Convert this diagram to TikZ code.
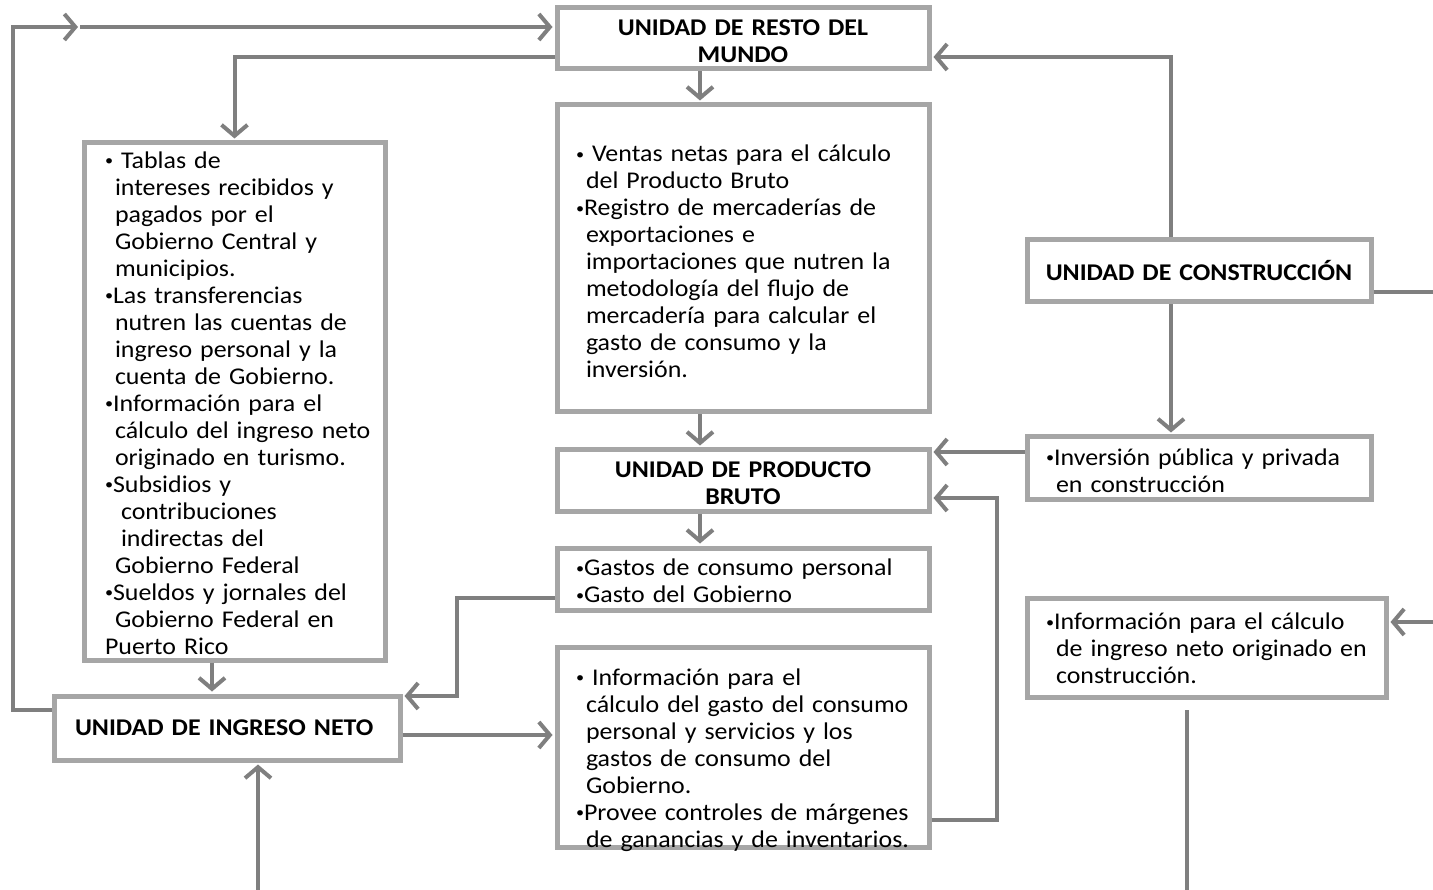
\documentclass[tikz,border=0pt]{standalone}
\usepackage{fontspec}
\setmainfont{Carlito}[FakeStretch=1.08]
\usetikzlibrary{arrows.meta}
\definecolor{boxgray}{HTML}{A6A6A6}
\definecolor{lngray}{HTML}{7F7F7F}
\newcommand{\ind}{\hspace*{10pt}}
\newcommand{\bul}{\raisebox{2.5pt}{\fontsize{15}{15}\selectfont•}}
\tikzset{
  box/.style={draw=boxgray, line width=5pt, fill=white, rectangle, inner sep=0pt,
    font=\fontsize{24}{27}\selectfont},
  tbox/.style={box, align=left},
  head/.style={box, font=\bfseries\fontsize{24}{27}\selectfont, align=center},
  conn/.style={draw=lngray, line width=4pt},
  arr/.style={conn, -{Straight Barb[length=11pt,width=26pt]}, shorten >=2pt},
}
\begin{document}
\begin{tikzpicture}[x=1pt,y=-1pt]
\useasboundingbox (0,0) rectangle (1433,890);

% boxes
\node[head, minimum width=372, minimum height=61, text width=360, text depth=21pt] (resto) at (743,38.5)
  {UNIDAD DE RESTO DEL\\MUNDO};
\node[tbox, minimum width=372, minimum height=307, text width=360, text depth=210pt] (ventas) at (743,258.5)
  {\leftskip=13pt\relax
   \bul{} Ventas netas para el cálculo\\
   \ind del Producto Bruto\\
   \bul Registro de mercaderías de\\
   \ind exportaciones e\\
   \ind importaciones que nutren la\\
   \ind metodología del flujo de\\
   \ind mercadería para calcular el\\
   \ind gasto de consumo y la\\
   \ind inversión.\par};
\node[head, minimum width=372, minimum height=61, text width=360, text depth=22pt] (pb) at (743,480.5)
  {UNIDAD DE PRODUCTO\\BRUTO};
\node[tbox, minimum width=372, minimum height=62, text width=360, text depth=23pt] (gastos) at (743,579)
  {\leftskip=13pt\relax
   \bul Gastos de consumo personal\\
   \bul Gasto del Gobierno\par};
\node[tbox, minimum width=372, minimum height=200, text width=360, text depth=140pt] (infoc) at (743,747)
  {\leftskip=13pt\relax
   \bul{} Información para el\\
   \ind cálculo del gasto del consumo\\
   \ind personal y servicios y los\\
   \ind gastos de consumo del\\
   \ind Gobierno.\\
   \bul Provee controles de márgenes\\
   \ind de ganancias y de inventarios.\par};
\node[tbox, minimum width=301, minimum height=517, text width=289, text depth=483pt] (tablas) at (234.5,401.5)
  {\leftskip=15pt\relax
   \bul{} Tablas de\\
   \ind intereses recibidos y\\
   \ind pagados por el\\
   \ind Gobierno Central y\\
   \ind municipios.\\
   \bul Las transferencias\\
   \ind nutren las cuentas de\\
   \ind ingreso personal y la\\
   \ind cuenta de Gobierno.\\
   \bul Información para el\\
   \ind cálculo del ingreso neto\\
   \ind originado en turismo.\\
   \bul Subsidios y\\
   \hspace*{16pt}contribuciones\\
   \hspace*{16pt}indirectas del\\
   \ind Gobierno Federal\\
   \bul Sueldos y jornales del\\
   \ind Gobierno Federal en\\
   Puerto Rico\par};
\node[head, align=left, minimum width=346, minimum height=64, text width=334, text depth=-2pt] (ingreso) at (227,728)
  {\leftskip=15pt\relax UNIDAD DE INGRESO NETO\par};
\node[head, minimum width=344, minimum height=62, text width=332] (constr) at (1199,271)
  {UNIDAD DE CONSTRUCCIÓN};
\node[tbox, minimum width=344, minimum height=62, text width=332, text depth=22pt] (inv) at (1199,468)
  {\leftskip=13pt\relax
   \bul Inversión pública y privada\\
   \ind en construcción\par};
\node[tbox, minimum width=359, minimum height=99, text width=347, text depth=52pt] (infok) at (1206.5,647.5)
  {\leftskip=13pt\relax
   \bul Información para el cálculo\\
   \ind de ingreso neto originado en\\
   \ind construcción.\par};

% free ends
\coordinate (m1) at (80,27);
\coordinate (cr) at (1433,292);
\coordinate (kr) at (1433,622);
\coordinate (vt) at (1187,710);
\coordinate (vb) at (1187,890);
\coordinate (ib) at (258,890);

% connectors
\draw[arr] (ingreso.west |- 0,710) -| (13,27) -- (m1);
\draw[arr] (m1) -- (resto.west |- 0,27);
\draw[arr] (resto.west |- 0,57) -| (tablas.north);
\draw[arr] (resto.south -| 700,0) -- (ventas.north -| 700,0);
\draw[arr] (ventas.south -| 700,0) -- (pb.north -| 700,0);
\draw[arr] (pb.south -| 700,0) -- (gastos.north -| 700,0);
\draw[arr] (gastos.west |- 0,598) -- (457,598) |- (ingreso.east |- 0,696);
\draw[arr] (ingreso.east |- 0,735) -- (infoc.west |- 0,735);
\draw[arr] (infoc.east |- 0,820) -| (997,498) -- (pb.east |- 0,498);
\draw[arr] (inv.west |- 0,452) -- (pb.east |- 0,452);
\draw[arr] (constr.north -| 1171,0) |- (resto.east |- 0,57);
\draw[arr] (constr.south -| 1171,0) -- (inv.north -| 1171,0);
\draw[conn] (constr.east |- 0,292) -- (cr);
\draw[arr] (kr) -- (infok.east |- 0,622);
\draw[conn] (vt) -- (vb);
\draw[arr] (tablas.south -| 212,0) -- (ingreso.north -| 212,0);
\draw[arr] (ib) -- (ingreso.south -| 258,0);
\end{tikzpicture}
\end{document}
